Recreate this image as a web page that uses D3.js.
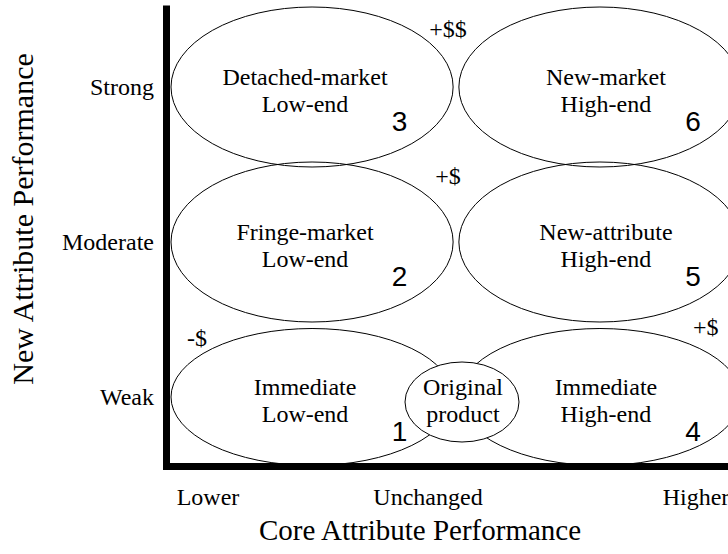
<!DOCTYPE html>
<html>
<head>
<meta charset="utf-8">
<script src="https://cdn.jsdelivr.net/npm/d3@7"></script>
<style>
  body { margin: 0; background: #fff; }
  svg { display: block; }
  text { font-family: "Liberation Serif", "Times New Roman", serif; fill: #000; }
  .num { font-family: "Liberation Sans", Arial, sans-serif; }
</style>
</head>
<body>
<div id="chart"></div>
<script>
// Constants for the chart
const WIDTH = 728;
const HEIGHT = 554;
const AXIS_X = 166.5;     // centre of the thick vertical bar
const AXIS_Y = 466.5;     // centre of the thick horizontal bar
const ROW_RY = 80;

// Data
const rowLevels = ["Strong", "Moderate", "Weak"];
const coreLevels = ["Lower", "Unchanged", "Higher"];
const coreValues = [-1, 0, 1];
const segmentColumns = ["Low-end", "High-end"];

const segmentNumbers = [1, 2, 3, 4, 5, 6];
const segmentRows = ["Weak", "Moderate", "Strong", "Weak", "Moderate", "Strong"];
const segmentCols = ["Low-end", "Low-end", "Low-end", "High-end", "High-end", "High-end"];
const segmentLines = [
  ["Immediate", "Low-end"],
  ["Fringe-market", "Low-end"],
  ["Detached-market", "Low-end"],
  ["Immediate", "High-end"],
  ["New-attribute", "High-end"],
  ["New-market", "High-end"]
];

const originalLines = ["Original", "product"];

const priceLabels = ["-$", "+$", "+$", "+$$"];
const priceRows = ["Weak", "Weak", "Moderate", "Strong"];
const priceSpots = ["left", "right", "gap", "gap"];

const yTitle = "New Attribute Performance";
const xTitle = "Core Attribute Performance";

// Scales
let xCell = d3.scaleBand()
              .domain(segmentColumns)
              .range([171, 741])
              .paddingInner(0.02);

let yRow = d3.scalePoint()
             .domain(rowLevels)
             .range([87, 397]);

// the drawing is not evenly spaced along the core axis
let xTick = d3.scaleLinear()
              .domain(coreValues)
              .range([208, 428, 696]);

let svg = d3.select("#chart").append("svg")
            .attr("width", WIDTH)
            .attr("height", HEIGHT);

let rx = xCell.bandwidth() / 2;
let cellX = c => xCell(c) + rx;
let cellRy = r => Math.min(ROW_RY, AXIS_Y - 1 - yRow(r));
let textShift = c => c == "Low-end" ? -7 : 6;
let numShift = c => c == "Low-end" ? rx * 0.62 : rx * 0.66;

// Segment ellipses
let segments = segmentNumbers.map((n, i) => ({
  n, row: segmentRows[i], col: segmentCols[i], lines: segmentLines[i]
}));

let seg = svg.append("g").selectAll("g")
             .data(segments)
             .join("g");

seg.append("ellipse")
   .attr("cx", d => cellX(d.col))
   .attr("cy", d => yRow(d.row))
   .attr("rx", rx)
   .attr("ry", d => cellRy(d.row))
   .attr("fill", "none")
   .attr("stroke", "#000")
   .attr("stroke-width", 1);

seg.append("text")
   .attr("x", d => cellX(d.col) + textShift(d.col))
   .attr("y", d => yRow(d.row) - 2)
   .attr("text-anchor", "middle")
   .style("font-size", "24px")
   .text(d => d.lines[0]);

seg.append("text")
   .attr("x", d => cellX(d.col) + textShift(d.col))
   .attr("y", d => yRow(d.row) + 25)
   .attr("text-anchor", "middle")
   .style("font-size", "24px")
   .text(d => d.lines[1]);

seg.append("text")
   .attr("class", "num")
   .attr("x", d => cellX(d.col) + numShift(d.col))
   .attr("y", d => yRow(d.row) + 44)
   .attr("text-anchor", "middle")
   .style("font-size", "28px")
   .text(d => d.n);

// Original product, sitting on the seam of the weak row
let gapX = (xCell("Low-end") + xCell.bandwidth() + xCell("High-end")) / 2;
let orig = svg.append("g");
orig.append("ellipse")
    .attr("cx", gapX + 6)
    .attr("cy", yRow("Weak") + 5)
    .attr("rx", 57)
    .attr("ry", 40)
    .attr("fill", "#fff")
    .attr("stroke", "#000")
    .attr("stroke-width", 1);
orig.selectAll("text")
    .data(originalLines)
    .join("text")
    .attr("x", gapX + 7)
    .attr("y", (d, i) => yRow("Weak") - 2 + i * 27)
    .attr("text-anchor", "middle")
    .style("font-size", "24px")
    .text(d => d);

// Price annotations
svg.append("g").selectAll("text")
   .data(priceLabels.map((t, i) => ({ t, row: priceRows[i], spot: priceSpots[i] })))
   .join("text")
   .attr("x", d => {
     if (d.spot == "left") return xCell("Low-end") + 16;
     if (d.spot == "right") return xCell("High-end") + xCell.bandwidth() - 48;
     return gapX - 8;
   })
   .attr("y", d => {
     let top = yRow(d.row) - cellRy(d.row);
     if (d.spot == "left") return top + 17;
     if (d.spot == "right") return top + 6;
     return d.row == "Strong" ? top + 30 : top + 22;
   })
   .attr("text-anchor", d => d.spot == "gap" ? "middle" : "start")
   .style("font-size", "24px")
   .text(d => d.t);

// Thick axes
svg.append("path")
   .attr("d", d3.line()([[AXIS_X, 9], [AXIS_X, AXIS_Y], [WIDTH + 10, AXIS_Y]]))
   .attr("fill", "none")
   .attr("stroke", "#000")
   .attr("stroke-width", 7)
   .attr("stroke-linecap", "square");

// Row labels
svg.append("g").selectAll("text")
   .data(rowLevels)
   .join("text")
   .attr("x", 154)
   .attr("y", d => yRow(d) + 8)
   .attr("text-anchor", "end")
   .style("font-size", "24px")
   .text(d => d);

// Column labels
svg.append("g").selectAll("text")
   .data(coreLevels)
   .join("text")
   .attr("x", (d, i) => xTick(coreValues[i]))
   .attr("y", 505)
   .attr("text-anchor", "middle")
   .style("font-size", "24px")
   .text(d => d);

// Axis titles
svg.append("text")
   .attr("transform", `translate(33, 219) rotate(-90)`)
   .attr("text-anchor", "middle")
   .style("font-size", "30px")
   .text(yTitle);

svg.append("text")
   .attr("x", 420)
   .attr("y", 540)
   .attr("text-anchor", "middle")
   .style("font-size", "29px")
   .text(xTitle);
</script>
</body>
</html>
